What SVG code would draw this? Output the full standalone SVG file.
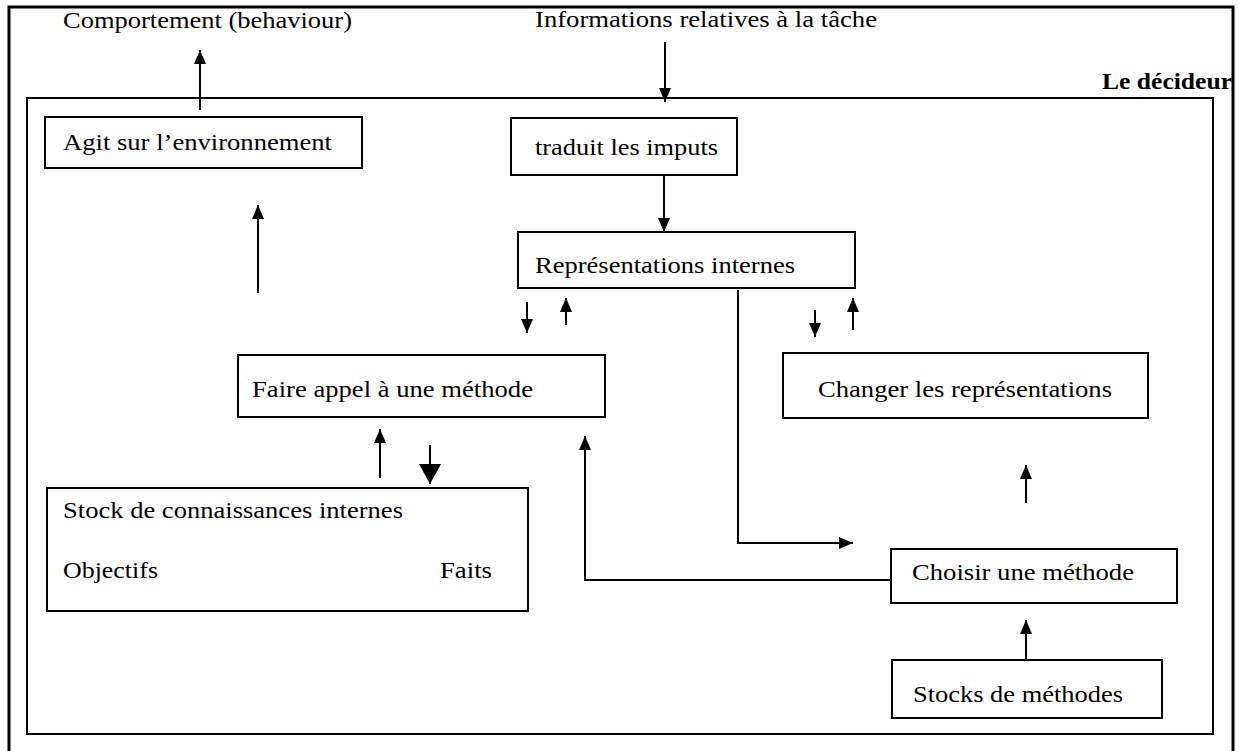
<svg xmlns="http://www.w3.org/2000/svg" width="1239" height="751" viewBox="0 0 1239 751">
<style>
  .box { fill: #fff; stroke: #000; stroke-width: 2; }
  .frame { fill: none; stroke: #000; }
  .t { font-family: "Liberation Serif", "Times New Roman", serif; font-size: 24px; fill: #000; }
  .b { font-weight: bold; }
  .c { fill: none; stroke: #000; stroke-width: 2; }
</style>
<defs>
  <marker id="ah" markerUnits="userSpaceOnUse" markerWidth="14" markerHeight="12" refX="14" refY="6" orient="auto">
    <path d="M0,0 L14,6 L0,12 z" fill="#000"/>
  </marker>
  <marker id="ahb" markerUnits="userSpaceOnUse" markerWidth="20" markerHeight="22" refX="20" refY="11" orient="auto">
    <path d="M0,0 L20,11 L0,22 z" fill="#000"/>
  </marker>
</defs>
<rect width="1239" height="751" fill="#fff"/>

<g id="outer">
  <rect class="frame" x="9" y="7" width="1224" height="770" stroke-width="3"/>
  <text class="t b" x="1102" y="89" textLength="130" lengthAdjust="spacingAndGlyphs">Le décideur</text>
</g>
<g id="inner">
  <rect class="frame" x="27" y="98" width="1186" height="636" stroke-width="2"/>
</g>

<g id="comportement">
  <text class="t" x="63" y="28" textLength="289" lengthAdjust="spacingAndGlyphs">Comportement (behaviour)</text>
</g>
<g id="informations">
  <text class="t" x="535" y="27" textLength="342" lengthAdjust="spacingAndGlyphs">Informations relatives à la tâche</text>
</g>
<g id="agit">
  <rect class="box" x="45" y="117" width="317" height="51"/>
  <text class="t" x="63" y="150" textLength="269" lengthAdjust="spacingAndGlyphs">Agit sur l’environnement</text>
</g>
<g id="traduit">
  <rect class="box" x="511" y="118" width="226" height="57"/>
  <text class="t" x="535" y="155" textLength="183" lengthAdjust="spacingAndGlyphs">traduit les imputs</text>
</g>
<g id="representations">
  <rect class="box" x="518" y="232" width="337" height="56"/>
  <text class="t" x="535" y="273" textLength="260" lengthAdjust="spacingAndGlyphs">Représentations internes</text>
</g>
<g id="faire">
  <rect class="box" x="238" y="355" width="367" height="62"/>
  <text class="t" x="252" y="397" textLength="281" lengthAdjust="spacingAndGlyphs">Faire appel à une méthode</text>
</g>
<g id="changer">
  <rect class="box" x="783" y="353" width="365" height="65"/>
  <text class="t" x="818" y="397" textLength="294" lengthAdjust="spacingAndGlyphs">Changer les représentations</text>
</g>
<g id="stock">
  <rect class="box" x="47" y="488" width="481" height="123"/>
  <text class="t" x="63" y="518" textLength="340" lengthAdjust="spacingAndGlyphs">Stock de connaissances internes</text>
  <text class="t" x="63" y="578" textLength="95" lengthAdjust="spacingAndGlyphs">Objectifs</text>
  <text class="t" x="440" y="578" textLength="52" lengthAdjust="spacingAndGlyphs">Faits</text>
</g>
<g id="choisir">
  <rect class="box" x="891" y="549" width="286" height="54"/>
  <text class="t" x="912" y="580" textLength="222" lengthAdjust="spacingAndGlyphs">Choisir une méthode</text>
</g>
<g id="stocks-methodes">
  <rect class="box" x="892" y="660" width="270" height="58"/>
  <text class="t" x="913" y="702" textLength="210" lengthAdjust="spacingAndGlyphs">Stocks de méthodes</text>
</g>

<g id="connectors">
  <line class="c" x1="200" y1="110" x2="200" y2="50" marker-end="url(#ah)"/>
  <line class="c" x1="665" y1="42" x2="665" y2="102" marker-end="url(#ah)"/>
  <line class="c" x1="664" y1="175" x2="664" y2="232" marker-end="url(#ah)"/>
  <line class="c" x1="258" y1="293" x2="258" y2="205" marker-end="url(#ah)"/>
  <line class="c" x1="527" y1="302" x2="527" y2="333" marker-end="url(#ah)"/>
  <line class="c" x1="566" y1="325" x2="566" y2="298" marker-end="url(#ah)"/>
  <line class="c" x1="815" y1="310" x2="815" y2="337" marker-end="url(#ah)"/>
  <line class="c" x1="853" y1="330" x2="853" y2="298" marker-end="url(#ah)"/>
  <line class="c" x1="380" y1="478" x2="380" y2="429" marker-end="url(#ah)"/>
  <line class="c" x1="430" y1="445" x2="430" y2="484" marker-end="url(#ahb)"/>
  <polyline class="c" points="738,290 738,543 853,543" marker-end="url(#ah)"/>
  <polyline class="c" points="891,580 585,580 585,436" marker-end="url(#ah)"/>
  <line class="c" x1="1026" y1="503" x2="1026" y2="465" marker-end="url(#ah)"/>
  <line class="c" x1="1026" y1="660" x2="1026" y2="620" marker-end="url(#ah)"/>
</g>
</svg>
